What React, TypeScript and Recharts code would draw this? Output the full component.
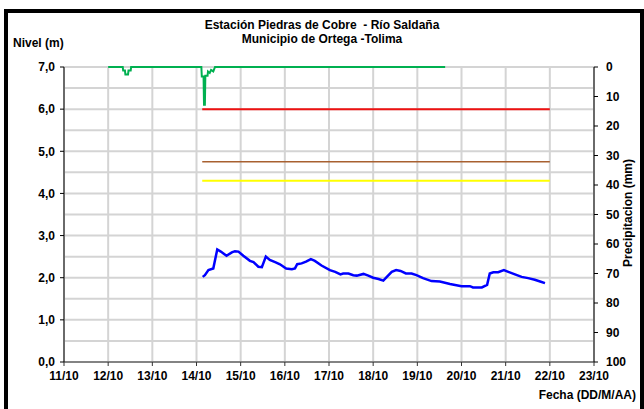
import { LineChart, Line, XAxis, YAxis, CartesianGrid } from 'recharts'

// Nivel del río (m), fecha en días de octubre (fraccionarios)
const diasNivel = [
  14.14, 14.19, 14.27, 14.38, 14.47, 14.55, 14.68, 14.8, 14.87, 14.95,
  15.06, 15.21, 15.29, 15.4, 15.48, 15.57, 15.66, 15.78, 15.89, 16.03,
  16.16, 16.23, 16.28, 16.38, 16.48, 16.59, 16.68, 16.83, 17.02, 17.14,
  17.26, 17.32, 17.44, 17.55, 17.63, 17.78, 17.89, 18.0, 18.12, 18.23,
  18.31, 18.42, 18.52, 18.62, 18.74, 18.87, 18.98, 19.13, 19.32, 19.51,
  19.74, 20.0, 20.19, 20.26, 20.46, 20.58, 20.64, 20.72, 20.83, 20.96,
  21.06, 21.21, 21.36, 21.51, 21.66, 21.78, 21.89,
]
const nivel = [
  2.02, 2.06, 2.18, 2.22, 2.67, 2.62, 2.52, 2.6, 2.63, 2.62,
  2.52, 2.4, 2.37, 2.26, 2.25, 2.5, 2.42, 2.37, 2.32, 2.22,
  2.2, 2.22, 2.32, 2.34, 2.38, 2.44, 2.4, 2.29, 2.18, 2.14,
  2.08, 2.1, 2.1, 2.06, 2.05, 2.09, 2.05, 2.0, 1.97, 1.93,
  2.02, 2.14, 2.18, 2.16, 2.1, 2.1, 2.06, 1.99, 1.92, 1.91,
  1.85, 1.8, 1.8, 1.77, 1.77, 1.83, 2.1, 2.13, 2.13, 2.18,
  2.14, 2.08, 2.02, 1.99, 1.95, 1.91, 1.87,
]

// Precipitación (mm)
const diasPrecip = [
  12.0, 12.33, 12.34, 12.38, 12.39, 12.45, 12.46, 12.51, 12.52,
  14.11, 14.12, 14.16, 14.17, 14.19, 14.2, 14.25, 14.26, 14.3, 14.33, 14.38, 14.42,
  19.63,
]
const precipitacion = [
  0, 0, 1.2, 1.2, 2.5, 2.5, 1.2, 1.2, 0,
  0, 3.2, 3.2, 12.8, 12.8, 3, 3, 1.5, 2, 1, 1.5, 0,
  0,
]

// Umbrales de alerta (m)
const diasUmbral = [14.13, 22]
const umbralRojo = 6.0
const umbralNaranja = 4.75
const umbralAmarillo = 4.3

const ticksFecha = [11, 12, 13, 14, 15, 16, 17, 18, 19, 20, 21, 22, 23]
const ticksNivel = [0, 1, 2, 3, 4, 5, 6, 7]
const gridNivel = [0, 0.5, 1, 1.5, 2, 2.5, 3, 3.5, 4, 4.5, 5, 5.5, 6, 6.5, 7]
const ticksPrecip = [0, 10, 20, 30, 40, 50, 60, 70, 80, 90, 100]

const nivelData = diasNivel.map((d, i) => ({ dia: d, nivel: nivel[i] }))
const precipData = diasPrecip.map((d, i) => ({ dia: d, precip: precipitacion[i] }))
const umbral = (v: number) => diasUmbral.map(d => ({ dia: d, valor: v }))

const FONT = '"Liberation Sans", Arial, sans-serif'
const tickStyle = { fill: '#000', fontSize: 12, fontWeight: 'bold', fontFamily: FONT }
const textStyle: React.CSSProperties = {
  position: 'absolute',
  fontFamily: FONT,
  fontSize: 12,
  fontWeight: 'bold',
  color: '#000',
  whiteSpace: 'nowrap',
  lineHeight: '14px',
}

export default function App() {
  return (
    <div style={{ position: 'fixed', left: 0, top: 0, width: 644, height: 409, background: '#fff', overflow: 'hidden' }}>
      <div style={{ position: 'absolute', left: 4, top: 9, width: 632, height: 420, border: '4px solid #000' }} />
      <div style={{ ...textStyle, left: 0, width: 644, top: 18, textAlign: 'center' }}>
        Estación Piedras de Cobre&nbsp; - Río Saldaña
      </div>
      <div style={{ ...textStyle, left: 0, width: 644, top: 32, textAlign: 'center' }}>
        Municipio de Ortega -Tolima
      </div>
      <div style={{ ...textStyle, left: 13, top: 36 }}>Nivel (m)</div>
      <div style={{ ...textStyle, right: 8, top: 388 }}>Fecha (DD/M/AA)</div>
      <div
        style={{
          ...textStyle,
          left: 628,
          top: 213,
          transform: 'translate(-50%, -50%) rotate(-90deg)',
        }}
      >
        Precipitacion (mm)
      </div>

      <div style={{ position: 'absolute', left: 0, top: 0 }}>
        <LineChart width={644} height={409} margin={{ top: 67, right: 10, bottom: 17, left: 4 }}>
          <CartesianGrid
            yAxisId="nivel"
            stroke="#d4d4d4"
            strokeWidth={2}
            horizontalValues={gridNivel}
            verticalValues={ticksFecha}
          />
          <XAxis
            dataKey="dia"
            type="number"
            domain={[11, 23]}
            ticks={ticksFecha}
            tickFormatter={v => `${v}/10`}
            allowDataOverflow
            height={30}
            tick={tickStyle}
            tickSize={4}
            tickMargin={5}
            stroke="#333"
            interval={0}
          />
          <YAxis
            yAxisId="nivel"
            orientation="left"
            domain={[0, 7]}
            ticks={ticksNivel}
            tickFormatter={v => v.toFixed(1).replace('.', ',')}
            width={60}
            tick={tickStyle}
            tickSize={4}
            tickMargin={5}
            stroke="#000"
            interval={0}
          />
          <YAxis
            yAxisId="precip"
            orientation="right"
            domain={[0, 100]}
            ticks={ticksPrecip}
            reversed
            width={40}
            tick={{ ...tickStyle, textAnchor: 'start' }}
            tickSize={4}
            tickMargin={8}
            stroke="#000"
            interval={0}
          />
          <Line yAxisId="nivel" data={umbral(umbralRojo)} dataKey="valor" stroke="#ee1111" strokeWidth={2} dot={false} isAnimationActive={false} />
          <Line yAxisId="nivel" data={umbral(umbralNaranja)} dataKey="valor" stroke="#a86030" strokeWidth={1.5} dot={false} isAnimationActive={false} />
          <Line yAxisId="nivel" data={umbral(umbralAmarillo)} dataKey="valor" stroke="#ffff00" strokeWidth={2} dot={false} isAnimationActive={false} />
          <Line yAxisId="nivel" data={nivelData} dataKey="nivel" type="linear" stroke="#0000ff" strokeWidth={2.5} dot={false} isAnimationActive={false} />
          <Line yAxisId="precip" data={precipData} dataKey="precip" type="linear" stroke="#00b050" strokeWidth={2} dot={false} isAnimationActive={false} />
        </LineChart>
      </div>
    </div>
  )
}
